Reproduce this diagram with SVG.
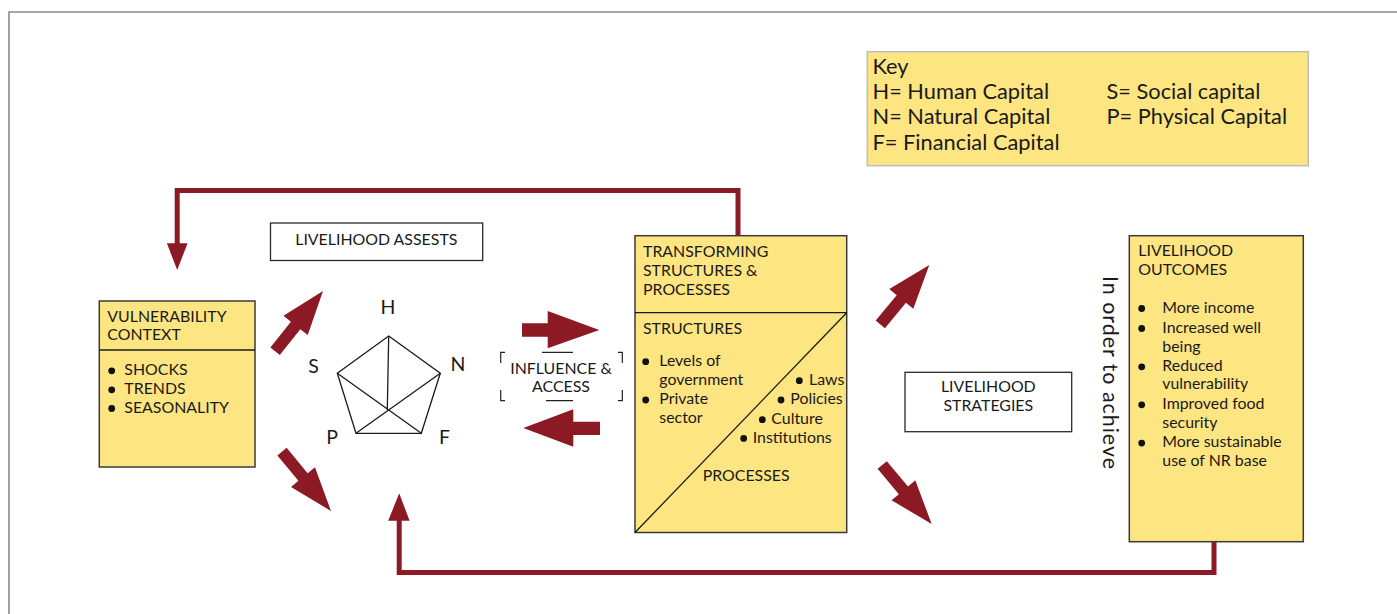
<svg xmlns="http://www.w3.org/2000/svg" width="1397" height="614" viewBox="0 0 1397 614">
<style>
text{font-family:Lato,"Liberation Sans",sans-serif;fill:#1a1a1a}
.b{font-size:15.9px}
.k{font-size:21.8px}
.l{font-size:19.5px}
.yb{fill:#fde582;stroke:#3a3a3a;stroke-width:1.5}
.wb{fill:#fff;stroke:#2a2a2a;stroke-width:1.3}
.ln{fill:none;stroke:#1a1a1a;stroke-width:1.3}
.red{fill:#8b1a24}
.loop{fill:none;stroke:#8b1a24;stroke-width:5}
.dot{fill:#111}
.mid{text-anchor:middle}
</style>
<defs>
<path id="darrow" d="M0,0 L-44,-15.5 L-44,-6 L-77,-6 L-77,6 L-44,6 L-44,15.5 Z"/>
</defs>
<rect width="1397" height="614" fill="#fff"/>
<path d="M9,614 V12 H1397" fill="none" stroke="#8a8a8a" stroke-width="1.6"/>

<g id="connectors">
<path class="loop" d="M738,236 V190.5 H177.2 V246"/>
<path class="red" d="M166.9,243.3 H187.6 L177.2,270 Z"/>
<path class="loop" d="M1214,542 V572.5 H399.2 V518"/>
<path class="red" d="M388.2,520.7 H409.6 L399.2,493.3 Z"/>
<use href="#darrow" class="red" transform="translate(323,291) rotate(-51.5)"/>
<use href="#darrow" class="red" transform="translate(331,511) rotate(50.5)"/>
<use href="#darrow" class="red" transform="translate(929.3,265) rotate(-50.5)"/>
<use href="#darrow" class="red" transform="translate(931.7,524) rotate(50)"/>
<path class="red" d="M522,323.3 H547.7 V311 L599.3,330 L547.7,348.3 V336.7 H522 Z"/>
<path class="red" d="M600,421.7 H573.3 V409.3 L523.3,428 L573.3,446.7 V435 H600 Z"/>
</g>

<g id="key">
<rect x="867.3" y="51.7" width="441" height="114" fill="#fde582" stroke="#bdbdbd" stroke-width="1.5"/>
<text class="k" x="872.5" y="73.5">Key</text>
<text class="k" x="872.5" y="98.5">H= Human Capital</text>
<text class="k" x="872.5" y="124">N= Natural Capital</text>
<text class="k" x="872.5" y="149.5">F= Financial Capital</text>
<text class="k" x="1106.5" y="98.5">S= Social capital</text>
<text class="k" x="1106.5" y="124">P= Physical Capital</text>
</g>

<g id="vulnerability">
<rect class="yb" x="99.3" y="301" width="155.7" height="166"/>
<line class="ln" x1="99.3" y1="350" x2="255" y2="350"/>
<text class="b" x="107.3" y="321.7">VULNERABILITY</text>
<text class="b" x="107.3" y="340">CONTEXT</text>
<circle class="dot" cx="111.7" cy="370.8" r="3.4"/>
<circle class="dot" cx="111.7" cy="389.8" r="3.4"/>
<circle class="dot" cx="111.7" cy="408.5" r="3.4"/>
<text class="b" x="124.3" y="375">SHOCKS</text>
<text class="b" x="124.3" y="394">TRENDS</text>
<text class="b" x="124.3" y="412.7">SEASONALITY</text>
</g>

<g id="assets">
<rect class="wb" x="270.5" y="223" width="212.2" height="37.5"/>
<text class="b mid" x="376.3" y="245">LIVELIHOOD ASSESTS</text>
</g>

<g id="pentagon">
<path class="ln" d="M388.7,336 L440.3,373.3 L421.3,433.3 L356,433.3 L337.3,373.3 Z"/>
<path class="ln" d="M388.7,336 L387.3,410 M337.3,373.3 L421.3,433.3 M440.3,373.3 L356,433.3"/>
<text class="l mid" x="388" y="314">H</text>
<text class="l mid" x="458" y="371">N</text>
<text class="l mid" x="313.5" y="373">S</text>
<text class="l mid" x="332" y="443.5">P</text>
<text class="l mid" x="444.5" y="443.5">F</text>
</g>

<g id="influence">
<path fill="none" stroke="#222" stroke-width="1.2" d="M500.7,363 V352.3 H505 M542,352.3 H573 M618,352.3 H622.3 V363 M500.7,390 V400.7 H505 M546,400.7 H573 M618,400.7 H622.3 V390"/>
<text class="b mid" x="561" y="374">INFLUENCE &amp;</text>
<text class="b mid" x="561" y="391.7">ACCESS</text>
</g>

<g id="transforming">
<rect class="yb" x="635" y="235.7" width="211.7" height="296.8"/>
<line class="ln" x1="635" y1="312.7" x2="846.7" y2="312.7"/>
<line class="ln" x1="635" y1="532.5" x2="846.7" y2="312.7"/>
<text class="b" x="643" y="256.7">TRANSFORMING</text>
<text class="b" x="643" y="275.7">STRUCTURES &amp;</text>
<text class="b" x="643" y="295">PROCESSES</text>
<text class="b" x="643" y="334.3">STRUCTURES</text>
<circle class="dot" cx="645.7" cy="361.7" r="3.4"/>
<circle class="dot" cx="645.7" cy="400" r="3.4"/>
<text class="b" x="659.3" y="366">Levels of</text>
<text class="b" x="659.3" y="385">government</text>
<text class="b" x="659.3" y="404.3">Private</text>
<text class="b" x="659.3" y="423.3">sector</text>
<circle class="dot" cx="799.3" cy="380.7" r="3.4"/>
<circle class="dot" cx="781" cy="400" r="3.4"/>
<circle class="dot" cx="762.3" cy="419.7" r="3.4"/>
<circle class="dot" cx="743.7" cy="438.4" r="3.4"/>
<text class="b" x="809" y="385">Laws</text>
<text class="b" x="790.3" y="404.3">Policies</text>
<text class="b" x="771.3" y="424">Culture</text>
<text class="b" x="752.7" y="442.7">Institutions</text>
<text class="b" x="702.7" y="480.7">PROCESSES</text>
</g>

<g id="strategies">
<rect class="wb" x="905" y="372.3" width="166.7" height="59.4"/>
<text class="b mid" x="988.3" y="391.7">LIVELIHOOD</text>
<text class="b mid" x="988.3" y="411">STRATEGIES</text>
</g>

<g id="achieve">
<text transform="translate(1103,276) rotate(90)" font-size="21.5" textLength="193" lengthAdjust="spacing">In order to achieve</text>
</g>

<g id="outcomes">
<rect class="yb" x="1129.3" y="235.7" width="174" height="306"/>
<text class="b" x="1138.3" y="256">LIVELIHOOD</text>
<text class="b" x="1138.3" y="275">OUTCOMES</text>
<circle class="dot" cx="1141.7" cy="308.5" r="3.4"/>
<circle class="dot" cx="1141.7" cy="328.5" r="3.4"/>
<circle class="dot" cx="1141.7" cy="366.8" r="3.4"/>
<circle class="dot" cx="1141.7" cy="404.8" r="3.4"/>
<circle class="dot" cx="1141.7" cy="443.1" r="3.4"/>
<text class="b" x="1162.3" y="312.7">More income</text>
<text class="b" x="1162.3" y="332.7">Increased well</text>
<text class="b" x="1162.3" y="351.7">being</text>
<text class="b" x="1162.3" y="371">Reduced</text>
<text class="b" x="1162.3" y="389.3">vulnerability</text>
<text class="b" x="1162.3" y="409">Improved food</text>
<text class="b" x="1162.3" y="427.7">security</text>
<text class="b" x="1162.3" y="447.3">More sustainable</text>
<text class="b" x="1162.3" y="466">use of NR base</text>
</g>
</svg>
